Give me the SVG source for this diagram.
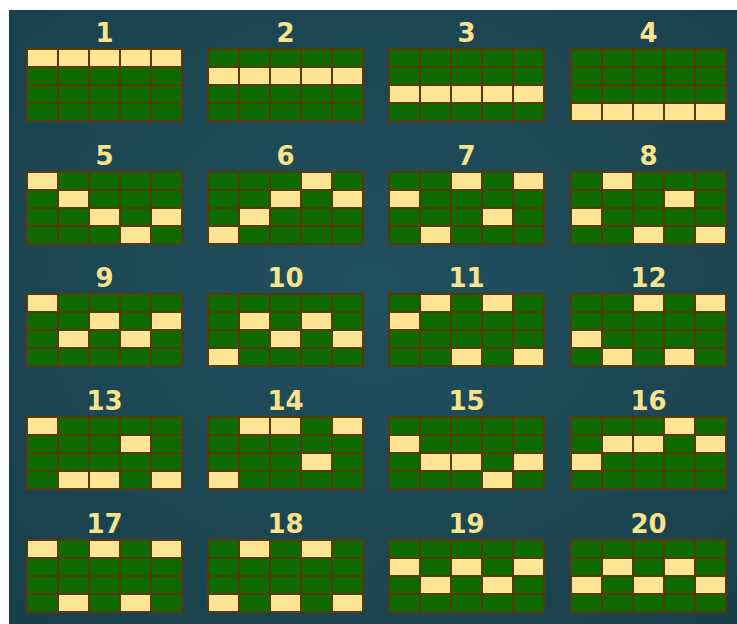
<svg xmlns="http://www.w3.org/2000/svg" xmlns:xlink="http://www.w3.org/1999/xlink" width="737" height="624" viewBox="0 0 737 624">
<style>
.t{font-family:"DejaVu Sans",sans-serif;font-weight:bold;font-size:26px;fill:#fbe28c;text-anchor:middle}
.y{fill:#fde594;stroke:#573a08;stroke-width:2}
</style>
<defs>
<radialGradient id="bg" cx="50%" cy="45%" r="70%">
<stop offset="0" stop-color="#21515d"/>
<stop offset="1" stop-color="#18404c"/>
</radialGradient>
<g id="grid">
<rect x="0" y="0" width="155" height="72" fill="#0e6a02" stroke="#573a08" stroke-width="2"/>
<path d="M31 0V72M62 0V72M93 0V72M124 0V72M0 18H155M0 36H155M0 54H155" stroke="#573a08" stroke-width="2" fill="none"/>
</g>
</defs>
<rect x="0" y="0" width="737" height="624" fill="#ffffff"/>
<rect x="9" y="10" width="728" height="614" fill="url(#bg)"/>
<g id="line1" transform="translate(27,49)"><text class="t" x="77.5" y="-7">1</text><use xlink:href="#grid"/>
<rect class="y" x="0" y="0" width="31" height="18"/><rect class="y" x="31" y="0" width="31" height="18"/><rect class="y" x="62" y="0" width="31" height="18"/><rect class="y" x="93" y="0" width="31" height="18"/><rect class="y" x="124" y="0" width="31" height="18"/></g>
<g id="line2" transform="translate(208,49)"><text class="t" x="77.5" y="-7">2</text><use xlink:href="#grid"/>
<rect class="y" x="0" y="18" width="31" height="18"/><rect class="y" x="31" y="18" width="31" height="18"/><rect class="y" x="62" y="18" width="31" height="18"/><rect class="y" x="93" y="18" width="31" height="18"/><rect class="y" x="124" y="18" width="31" height="18"/></g>
<g id="line3" transform="translate(389,49)"><text class="t" x="77.5" y="-7">3</text><use xlink:href="#grid"/>
<rect class="y" x="0" y="36" width="31" height="18"/><rect class="y" x="31" y="36" width="31" height="18"/><rect class="y" x="62" y="36" width="31" height="18"/><rect class="y" x="93" y="36" width="31" height="18"/><rect class="y" x="124" y="36" width="31" height="18"/></g>
<g id="line4" transform="translate(571,49)"><text class="t" x="77.5" y="-7">4</text><use xlink:href="#grid"/>
<rect class="y" x="0" y="54" width="31" height="18"/><rect class="y" x="31" y="54" width="31" height="18"/><rect class="y" x="62" y="54" width="31" height="18"/><rect class="y" x="93" y="54" width="31" height="18"/><rect class="y" x="124" y="54" width="31" height="18"/></g>
<g id="line5" transform="translate(27,172)"><text class="t" x="77.5" y="-7">5</text><use xlink:href="#grid"/>
<rect class="y" x="0" y="0" width="31" height="18"/><rect class="y" x="31" y="18" width="31" height="18"/><rect class="y" x="62" y="36" width="31" height="18"/><rect class="y" x="93" y="54" width="31" height="18"/><rect class="y" x="124" y="36" width="31" height="18"/></g>
<g id="line6" transform="translate(208,172)"><text class="t" x="77.5" y="-7">6</text><use xlink:href="#grid"/>
<rect class="y" x="0" y="54" width="31" height="18"/><rect class="y" x="31" y="36" width="31" height="18"/><rect class="y" x="62" y="18" width="31" height="18"/><rect class="y" x="93" y="0" width="31" height="18"/><rect class="y" x="124" y="18" width="31" height="18"/></g>
<g id="line7" transform="translate(389,172)"><text class="t" x="77.5" y="-7">7</text><use xlink:href="#grid"/>
<rect class="y" x="0" y="18" width="31" height="18"/><rect class="y" x="31" y="54" width="31" height="18"/><rect class="y" x="62" y="0" width="31" height="18"/><rect class="y" x="93" y="36" width="31" height="18"/><rect class="y" x="124" y="0" width="31" height="18"/></g>
<g id="line8" transform="translate(571,172)"><text class="t" x="77.5" y="-7">8</text><use xlink:href="#grid"/>
<rect class="y" x="0" y="36" width="31" height="18"/><rect class="y" x="31" y="0" width="31" height="18"/><rect class="y" x="62" y="54" width="31" height="18"/><rect class="y" x="93" y="18" width="31" height="18"/><rect class="y" x="124" y="54" width="31" height="18"/></g>
<g id="line9" transform="translate(27,294)"><text class="t" x="77.5" y="-7">9</text><use xlink:href="#grid"/>
<rect class="y" x="0" y="0" width="31" height="18"/><rect class="y" x="31" y="36" width="31" height="18"/><rect class="y" x="62" y="18" width="31" height="18"/><rect class="y" x="93" y="36" width="31" height="18"/><rect class="y" x="124" y="18" width="31" height="18"/></g>
<g id="line10" transform="translate(208,294)"><text class="t" x="77.5" y="-7">10</text><use xlink:href="#grid"/>
<rect class="y" x="0" y="54" width="31" height="18"/><rect class="y" x="31" y="18" width="31" height="18"/><rect class="y" x="62" y="36" width="31" height="18"/><rect class="y" x="93" y="18" width="31" height="18"/><rect class="y" x="124" y="36" width="31" height="18"/></g>
<g id="line11" transform="translate(389,294)"><text class="t" x="77.5" y="-7">11</text><use xlink:href="#grid"/>
<rect class="y" x="0" y="18" width="31" height="18"/><rect class="y" x="31" y="0" width="31" height="18"/><rect class="y" x="62" y="54" width="31" height="18"/><rect class="y" x="93" y="0" width="31" height="18"/><rect class="y" x="124" y="54" width="31" height="18"/></g>
<g id="line12" transform="translate(571,294)"><text class="t" x="77.5" y="-7">12</text><use xlink:href="#grid"/>
<rect class="y" x="0" y="36" width="31" height="18"/><rect class="y" x="31" y="54" width="31" height="18"/><rect class="y" x="62" y="0" width="31" height="18"/><rect class="y" x="93" y="54" width="31" height="18"/><rect class="y" x="124" y="0" width="31" height="18"/></g>
<g id="line13" transform="translate(27,417)"><text class="t" x="77.5" y="-7">13</text><use xlink:href="#grid"/>
<rect class="y" x="0" y="0" width="31" height="18"/><rect class="y" x="31" y="54" width="31" height="18"/><rect class="y" x="62" y="54" width="31" height="18"/><rect class="y" x="93" y="18" width="31" height="18"/><rect class="y" x="124" y="54" width="31" height="18"/></g>
<g id="line14" transform="translate(208,417)"><text class="t" x="77.5" y="-7">14</text><use xlink:href="#grid"/>
<rect class="y" x="0" y="54" width="31" height="18"/><rect class="y" x="31" y="0" width="31" height="18"/><rect class="y" x="62" y="0" width="31" height="18"/><rect class="y" x="93" y="36" width="31" height="18"/><rect class="y" x="124" y="0" width="31" height="18"/></g>
<g id="line15" transform="translate(389,417)"><text class="t" x="77.5" y="-7">15</text><use xlink:href="#grid"/>
<rect class="y" x="0" y="18" width="31" height="18"/><rect class="y" x="31" y="36" width="31" height="18"/><rect class="y" x="62" y="36" width="31" height="18"/><rect class="y" x="93" y="54" width="31" height="18"/><rect class="y" x="124" y="36" width="31" height="18"/></g>
<g id="line16" transform="translate(571,417)"><text class="t" x="77.5" y="-7">16</text><use xlink:href="#grid"/>
<rect class="y" x="0" y="36" width="31" height="18"/><rect class="y" x="31" y="18" width="31" height="18"/><rect class="y" x="62" y="18" width="31" height="18"/><rect class="y" x="93" y="0" width="31" height="18"/><rect class="y" x="124" y="18" width="31" height="18"/></g>
<g id="line17" transform="translate(27,540)"><text class="t" x="77.5" y="-7">17</text><use xlink:href="#grid"/>
<rect class="y" x="0" y="0" width="31" height="18"/><rect class="y" x="31" y="54" width="31" height="18"/><rect class="y" x="62" y="0" width="31" height="18"/><rect class="y" x="93" y="54" width="31" height="18"/><rect class="y" x="124" y="0" width="31" height="18"/></g>
<g id="line18" transform="translate(208,540)"><text class="t" x="77.5" y="-7">18</text><use xlink:href="#grid"/>
<rect class="y" x="0" y="54" width="31" height="18"/><rect class="y" x="31" y="0" width="31" height="18"/><rect class="y" x="62" y="54" width="31" height="18"/><rect class="y" x="93" y="0" width="31" height="18"/><rect class="y" x="124" y="54" width="31" height="18"/></g>
<g id="line19" transform="translate(389,540)"><text class="t" x="77.5" y="-7">19</text><use xlink:href="#grid"/>
<rect class="y" x="0" y="18" width="31" height="18"/><rect class="y" x="31" y="36" width="31" height="18"/><rect class="y" x="62" y="18" width="31" height="18"/><rect class="y" x="93" y="36" width="31" height="18"/><rect class="y" x="124" y="18" width="31" height="18"/></g>
<g id="line20" transform="translate(571,540)"><text class="t" x="77.5" y="-7">20</text><use xlink:href="#grid"/>
<rect class="y" x="0" y="36" width="31" height="18"/><rect class="y" x="31" y="18" width="31" height="18"/><rect class="y" x="62" y="36" width="31" height="18"/><rect class="y" x="93" y="18" width="31" height="18"/><rect class="y" x="124" y="36" width="31" height="18"/></g>
</svg>
